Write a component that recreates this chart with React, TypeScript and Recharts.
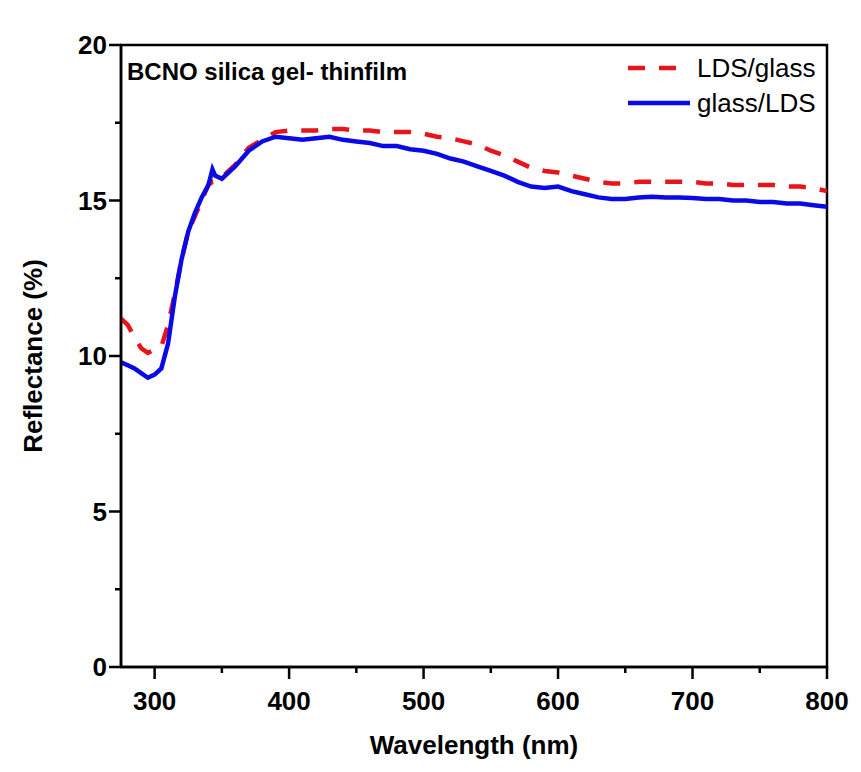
import React from 'react';
import { LineChart, Line, XAxis, YAxis, Legend, ReferenceArea } from 'recharts';

const wavelength = [
  275, 280, 285, 290, 295, 300, 305, 310, 315, 320, 325, 330, 335, 340, 343, 345, 350, 360, 370, 380,
  390, 400, 410, 420, 430, 440, 450, 460, 470, 480, 490, 500, 510, 520, 530, 540, 550, 560, 570, 580,
  590, 600, 610, 620, 630, 640, 650, 660, 670, 680, 690, 700, 710, 720, 730, 740, 750, 760, 770, 780,
  790, 800,
];

const ldsGlass = [
  11.2, 11.0, 10.6, 10.25, 10.1, 10.2, 10.3, 11.0, 12.0, 13.1, 14.0, 14.5, 15.0, 15.5, 15.6, 15.6, 15.75, 16.15, 16.7, 16.95,
  17.2, 17.25, 17.25, 17.25, 17.3, 17.3, 17.25, 17.25, 17.2, 17.2, 17.2, 17.15, 17.05, 17.0, 16.9, 16.8, 16.6, 16.45, 16.25, 16.05,
  15.95, 15.9, 15.8, 15.7, 15.6, 15.55, 15.55, 15.6, 15.6, 15.6, 15.6, 15.6, 15.55, 15.55, 15.5, 15.5, 15.5, 15.5, 15.45, 15.45,
  15.4, 15.3,
];

const glassLds = [
  9.8, 9.7, 9.6, 9.45, 9.3, 9.4, 9.6, 10.4, 11.9, 13.1, 14.0, 14.6, 15.1, 15.5, 16.0, 15.8, 15.7, 16.1, 16.6, 16.9,
  17.05, 17.0, 16.95, 17.0, 17.05, 16.95, 16.9, 16.85, 16.75, 16.75, 16.65, 16.6, 16.5, 16.35, 16.25, 16.1, 15.95, 15.8, 15.6, 15.45,
  15.4, 15.45, 15.3, 15.2, 15.1, 15.05, 15.05, 15.1, 15.12, 15.1, 15.1, 15.08, 15.05, 15.05, 15.0, 15.0, 14.95, 14.95, 14.9, 14.9,
  14.85, 14.8,
];

const xMajor = [300, 400, 500, 600, 700, 800];
const xTicks = [300, 350, 400, 450, 500, 550, 600, 650, 700, 750, 800];
const yMajor = [0, 5, 10, 15, 20];
const yTicks = [0, 2.5, 5, 7.5, 10, 12.5, 15, 17.5, 20];

const data = wavelength.map((w, i) => ({ w, ldsGlass: ldsGlass[i], glassLds: glassLds[i] }));

const FONT = '"Liberation Sans", Arial, sans-serif';

const XTick = (props: any) => {
  const { x, y, payload } = props;
  const major = xMajor.includes(payload.value);
  return (
    <g>
      <line x1={x} x2={x} y1={y} y2={y + (major ? 12 : 6)} stroke="#000" strokeWidth={2.5} />
      {major && (
        <text x={x} y={y + 43} textAnchor="middle" fontFamily={FONT} fontWeight="bold" fontSize={26} fill="#000">
          {payload.value}
        </text>
      )}
    </g>
  );
};

const YTick = (props: any) => {
  const { x, y, payload } = props;
  const major = yMajor.includes(payload.value);
  return (
    <g>
      <line x1={x} x2={x - (major ? 12 : 6)} y1={y} y2={y} stroke="#000" strokeWidth={2.5} />
      {major && (
        <text x={x - 14} y={y + 9} textAnchor="end" fontFamily={FONT} fontWeight="bold" fontSize={26} fill="#000">
          {payload.value}
        </text>
      )}
    </g>
  );
};

const LegendBox = () => (
  <svg width={200} height={70}>
    <line x1={8} x2={62} y1={18} y2={18} stroke="#e8141b" strokeWidth={4.5} strokeDasharray="17 14" />
    <text x={77} y={27} fontFamily={FONT} fontSize={26} fill="#000">LDS/glass</text>
    <line x1={8} x2={70} y1={53} y2={53} stroke="#0a0ae6" strokeWidth={4.5} />
    <text x={77} y={62} fontFamily={FONT} fontSize={26} fill="#000">glass/LDS</text>
  </svg>
);

export default function App() {
  return (
    <div style={{ position: 'absolute', left: 0, top: 0, background: '#fff' }}>
      <LineChart width={861} height={772} data={data} margin={{ top: 45, right: 34, bottom: 0, left: 0 }}>
        <XAxis
          dataKey="w"
          type="number"
          domain={[275, 800]}
          ticks={xTicks}
          interval={0}
          allowDataOverflow
          height={105}
          tickSize={0}
          tickMargin={0}
          tickLine={false}
          axisLine={{ stroke: '#000', strokeWidth: 2.5 }}
          tick={<XTick />}
          label={{
            content: (p: any) => {
              const vb = p.viewBox;
              return (
                <text x={vb.x + vb.width / 2} y={vb.y + 87} textAnchor="middle" fontFamily={FONT} fontWeight="bold" fontSize={26} fill="#000">
                  Wavelength (nm)
                </text>
              );
            },
          }}
        />
        <YAxis
          type="number"
          domain={[0, 20]}
          ticks={yTicks}
          interval={0}
          width={121}
          tickSize={0}
          tickMargin={0}
          tickLine={false}
          axisLine={{ stroke: '#000', strokeWidth: 2.5 }}
          tick={<YTick />}
          label={{
            content: (p: any) => {
              const vb = p.viewBox;
              const cx = 42;
              const cy = vb.y + vb.height / 2;
              return (
                <text x={cx} y={cy} transform={`rotate(-90 ${cx} ${cy})`} textAnchor="middle" fontFamily={FONT} fontWeight="bold" fontSize={26} fill="#000">
                  Reflectance (%)
                </text>
              );
            },
          }}
        />
        <ReferenceArea x1={275} x2={800} y1={0} y2={20} fill="none" stroke="#000" strokeWidth={2.5} ifOverflow="visible" />
        <Legend
          layout="horizontal"
          verticalAlign="middle"
          align="center"
          content={<LegendBox />}
          wrapperStyle={{ position: 'absolute', top: 50, left: 620, width: 200, height: 70, right: 'auto', bottom: 'auto' }}
        />
        <text x={127} y={80} fontFamily={FONT} fontWeight="bold" fontSize={24} fill="#000">
          BCNO silica gel- thinfilm
        </text>
        <Line
          dataKey="ldsGlass"
          name="LDS/glass"
          type="linear"
          stroke="#e8141b"
          strokeWidth={4.5}
          strokeDasharray="17 14"
          dot={false}
          isAnimationActive={false}
        />
        <Line
          dataKey="glassLds"
          name="glass/LDS"
          type="linear"
          stroke="#0a0ae6"
          strokeWidth={4.5}
          dot={false}
          isAnimationActive={false}
        />
      </LineChart>
    </div>
  );
}
